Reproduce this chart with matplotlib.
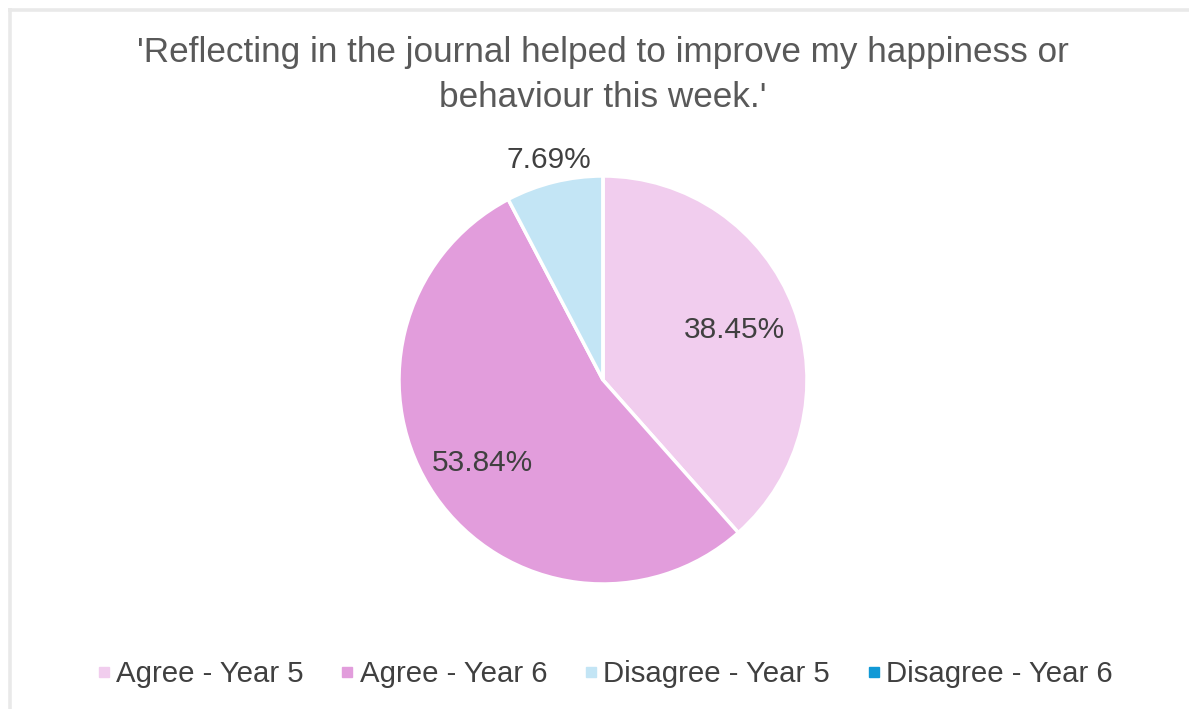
import numpy as np
import matplotlib
matplotlib.use("Agg")
import matplotlib.pyplot as plt
from matplotlib.lines import Line2D

plt.rcParams["font.family"] = ["Liberation Sans", "DejaVu Sans"]

categories = ["Agree - Year 5", "Agree - Year 6", "Disagree - Year 5", "Disagree - Year 6"]
shares = [38.45, 53.84, 7.69, 0.0]
colors = ["#F1CDEE", "#E29DDC", "#C3E5F5", "#1199D6"]
label_dist = [0.69, 0.72, 1.11, 1.1]
title = "'Reflecting in the journal helped to improve my happiness or\nbehaviour this week.'"
text_col = "#595959"

W, H = 1189, 709
fig = plt.figure(figsize=(W / 100, H / 100), dpi=100)
fig.patch.set_facecolor("white")

# pale frame along the top and left edge
fig.add_artist(Line2D([8 / W, 1], [1 - 9.5 / H] * 2, color="#E9E9E9", lw=2.6,
                      solid_capstyle="butt", transform=fig.transFigure))
fig.add_artist(Line2D([9.5 / W] * 2, [0, 1 - 8 / H], color="#E9E9E9", lw=2.6,
                      solid_capstyle="butt", transform=fig.transFigure))

cx, cy, r = 603, 380, 204
ax = fig.add_axes([(cx - r) / W, (H - cy - r) / H, 2 * r / W, 2 * r / H])
wedges, _ = ax.pie(shares, colors=colors, startangle=90, counterclock=False,
                   wedgeprops=dict(edgecolor="white", linewidth=2.5))
ax.set_xlim(-1, 1)
ax.set_ylim(-1, 1)
ax.set_aspect("equal")
ax.axis("off")

for w, v, d in zip(wedges, shares, label_dist):
    if v <= 0:
        continue
    ang = np.deg2rad((w.theta1 + w.theta2) / 2)
    ax.text(d * np.cos(ang), d * np.sin(ang), f"{v:.2f}%", ha="center", va="center",
            fontsize=21.5, color="#404040", clip_on=False)

fig.text(cx / W, 1 - 75 / H, title, ha="center", va="center", fontsize=25.3,
         color=text_col, linespacing=1.47)

handles = [Line2D([], [], marker="s", ls="", color=c, markersize=7) for c in colors]
leg = fig.legend(handles, categories, loc="center", bbox_to_anchor=(605 / W, 1 - 674 / H),
                 ncol=4, frameon=False, fontsize=21.2, handlelength=0.45,
                 handletextpad=0.2, columnspacing=1.25, labelcolor="#404040")

fig.savefig("out.png", dpi=100)
